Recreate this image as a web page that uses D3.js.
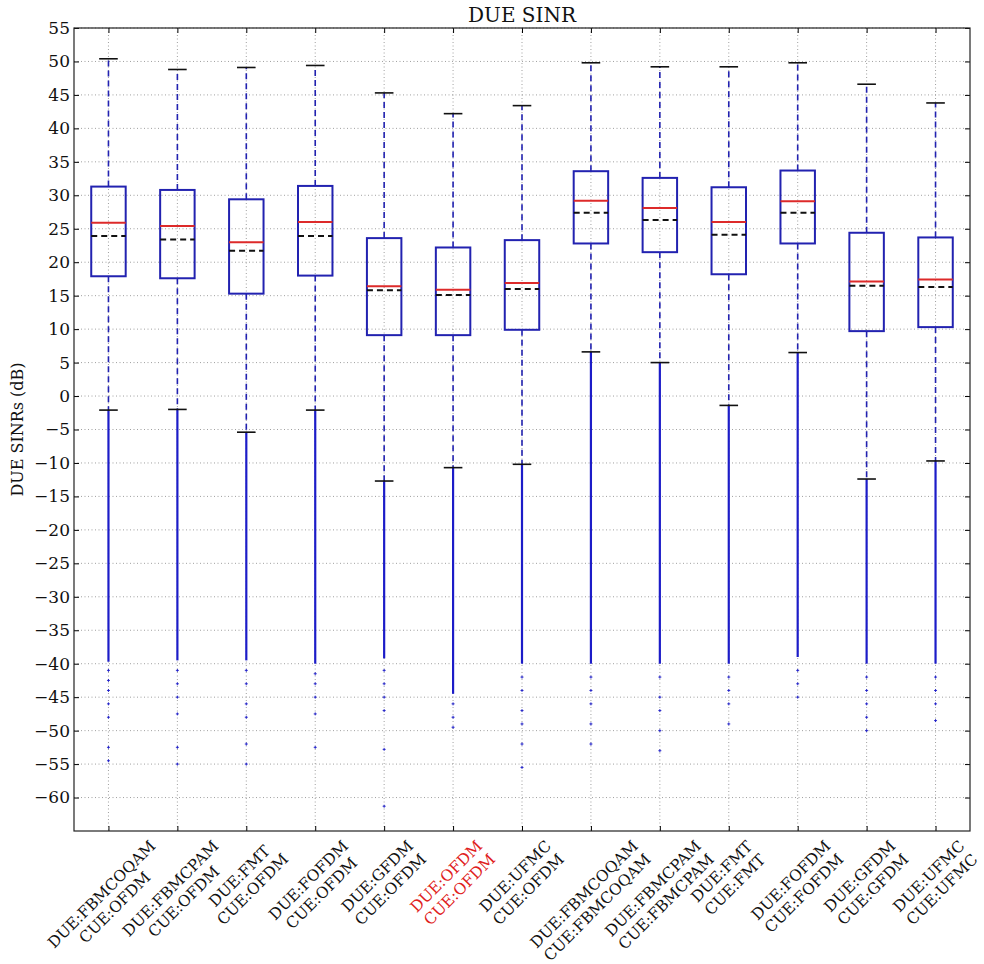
<!DOCTYPE html>
<html><head><meta charset="utf-8">
<script src="https://cdn.jsdelivr.net/npm/d3@7"></script>
<style>body{margin:0;background:#fff}</style>
</head><body><svg id="chart" width="984" height="964"></svg>
<script>
// ---- data ----
const categories = [
  ["DUE:FBMCOQAM", "CUE:OFDM"],
  ["DUE:FBMCPAM", "CUE:OFDM"],
  ["DUE:FMT", "CUE:OFDM"],
  ["DUE:FOFDM", "CUE:OFDM"],
  ["DUE:GFDM", "CUE:OFDM"],
  ["DUE:OFDM", "CUE:OFDM"],
  ["DUE:UFMC", "CUE:OFDM"],
  ["DUE:FBMCOQAM", "CUE:FBMCOQAM"],
  ["DUE:FBMCPAM", "CUE:FBMCPAM"],
  ["DUE:FMT", "CUE:FMT"],
  ["DUE:FOFDM", "CUE:FOFDM"],
  ["DUE:GFDM", "CUE:GFDM"],
  ["DUE:UFMC", "CUE:UFMC"]
];
const highlighted = ["DUE:OFDM"];
const capHigh = [50.4, 48.8, 49.1, 49.4, 45.3, 42.2, 43.4, 49.8, 49.2, 49.2, 49.8, 46.6, 43.8];
const q3      = [31.3, 30.8, 29.4, 31.4, 23.6, 22.2, 23.3, 33.6, 32.6, 31.2, 33.7, 24.4, 23.7];
const medians = [25.9, 25.4, 23.0, 26.0, 16.4, 15.9, 16.9, 29.2, 28.1, 26.0, 29.1, 17.1, 17.4];
const means   = [23.9, 23.4, 21.7, 23.9, 15.8, 15.1, 16.0, 27.4, 26.3, 24.1, 27.4, 16.5, 16.3];
const q1      = [17.9, 17.6, 15.3, 18.0,  9.1,  9.1,  9.9, 22.8, 21.5, 18.2, 22.8,  9.7, 10.3];
const capLow  = [-2.1, -2.0, -5.4, -2.1, -12.7, -10.7, -10.2, 6.6, 5.0, -1.4, 6.5, -12.4, -9.7];
const denseFlierEnd = [-39.7, -39.5, -39.5, -40, -39.2, -44.5, -40, -40, -40, -40, -39, -40, -40];
const sparseFliers = [
  [-41, -42.5, -44, -46, -48, -52.5, -54.5],
  [-41, -43, -45, -47.5, -52.5, -55],
  [-41, -43, -46, -48, -52, -55],
  [-41.5, -43, -45, -47.5, -52.5],
  [-41, -43, -45, -47, -52.8, -61.3],
  [-46, -48, -49.5],
  [-42, -44, -47, -49, -52, -55.5],
  [-42, -44, -46, -49, -52],
  [-42, -45, -47, -50, -53],
  [-42, -44, -46, -49],
  [-41, -43, -45],
  [-42, -44, -46, -48, -50],
  [-42, -44, -46, -48.5]
];
const yTickValues = [55, 50, 45, 40, 35, 30, 25, 20, 15, 10, 5, 0, -5, -10, -15, -20, -25, -30, -35, -40, -45, -50, -55, -60];
const yDomain = [-65, 55];
const titleText = "DUE SINR";
const yLabelText = "DUE SINRs (dB)";

// ---- layout ----
const L = 74, R = 970, T = 28, B = 831;
const svg = d3.select("#chart");
const font = "DejaVu Serif";
const blue = "#2222b0", flierBlue = "#1c1cc8", red = "#dd2a2a";

const x = d3.scaleLinear().domain([0.5, categories.length + 0.5]).range([L, R]);
const y = d3.scaleLinear().domain(yDomain).range([B, T]);
const pos = categories.map((c, i) => i + 1);
const boxHalf = (x(1.25) - x(0.75)) / 2;
const capHalf = (x(1.135) - x(0.865)) / 2;

// grid
const grid = svg.append("g");
grid.selectAll(".gy").data(yTickValues).join("line")
  .attr("x1", L).attr("x2", R).attr("y1", d => y(d)).attr("y2", d => y(d))
  .attr("stroke", "#777").attr("stroke-width", 0.7).attr("stroke-dasharray", "1,2.5");
grid.selectAll(".gx").data(pos).join("line")
  .attr("x1", d => x(d)).attr("x2", d => x(d)).attr("y1", T).attr("y2", B)
  .attr("stroke", "#777").attr("stroke-width", 0.7).attr("stroke-dasharray", "1,2.5");

// axes
const fmt = d3.format("d");
const ax = svg.append("g").attr("font-family", font);
const yl = ax.append("g").attr("transform", `translate(${L},0)`)
  .call(d3.axisLeft(y).tickValues(yTickValues).tickFormat(fmt).tickSize(-5).tickPadding(4));
ax.append("g").attr("transform", `translate(${R},0)`)
  .call(d3.axisRight(y).tickValues(yTickValues).tickFormat("").tickSize(-5));
ax.append("g").attr("transform", `translate(0,${B})`)
  .call(d3.axisBottom(x).tickValues(pos).tickFormat("").tickSize(-5));
ax.append("g").attr("transform", `translate(0,${T})`)
  .call(d3.axisTop(x).tickValues(pos).tickFormat("").tickSize(-5));
ax.selectAll(".domain").remove();
ax.selectAll(".tick line").attr("stroke", "#000").attr("stroke-width", 1);
yl.selectAll("text").attr("font-size", 17).attr("fill", "#111").attr("font-family", font);

// boxes
const g = svg.append("g");
pos.forEach((p, i) => {
  const cx = x(p);
  g.append("line").attr("x1", cx).attr("x2", cx).attr("y1", y(q3[i])).attr("y2", y(capHigh[i]))
    .attr("stroke", blue).attr("stroke-width", 1.6).attr("stroke-dasharray", "6,4");
  g.append("line").attr("x1", cx).attr("x2", cx).attr("y1", y(q1[i])).attr("y2", y(capLow[i]))
    .attr("stroke", blue).attr("stroke-width", 1.6).attr("stroke-dasharray", "6,4");
  g.append("line").attr("x1", cx).attr("x2", cx).attr("y1", y(capLow[i])).attr("y2", y(denseFlierEnd[i]))
    .attr("stroke", flierBlue).attr("stroke-width", 2.2);
  sparseFliers[i].forEach(v => {
    g.append("path").attr("d", `M${cx-1.5},${y(v)}h3M${cx},${y(v)-1.5}v3`)
      .attr("stroke", flierBlue).attr("stroke-width", 0.9);
  });
  [capHigh[i], capLow[i]].forEach(v => {
    g.append("line").attr("x1", cx - capHalf).attr("x2", cx + capHalf).attr("y1", y(v)).attr("y2", y(v))
      .attr("stroke", "#111").attr("stroke-width", 1.6);
  });
  g.append("rect").attr("x", cx - boxHalf).attr("width", 2 * boxHalf)
    .attr("y", y(q3[i])).attr("height", y(q1[i]) - y(q3[i]))
    .attr("fill", "none").attr("stroke", blue).attr("stroke-width", 2);
  g.append("line").attr("x1", cx - boxHalf).attr("x2", cx + boxHalf).attr("y1", y(medians[i])).attr("y2", y(medians[i]))
    .attr("stroke", red).attr("stroke-width", 2);
  g.append("line").attr("x1", cx - boxHalf).attr("x2", cx + boxHalf).attr("y1", y(means[i])).attr("y2", y(means[i]))
    .attr("stroke", "#111").attr("stroke-width", 2).attr("stroke-dasharray", "6,4");
});

// frame
svg.append("rect").attr("x", L).attr("y", T).attr("width", R - L).attr("height", B - T)
  .attr("fill", "none").attr("stroke", "#222").attr("stroke-width", 1.2);

// title, y label
svg.append("text").attr("x", (L + R) / 2).attr("y", 22).attr("text-anchor", "middle")
  .attr("font-family", font).attr("font-size", 20).attr("fill", "#111").text(titleText);
svg.append("text").attr("transform", `translate(23,${(T + B) / 2}) rotate(-90)`).attr("text-anchor", "middle")
  .attr("font-family", font).attr("font-size", 16).attr("fill", "#111").text(yLabelText);

// x tick labels, rotated 45 deg, centred multi-line
const fs = 15.5;
categories.forEach((lines, i) => {
  const outer = svg.append("g");
  const inner = outer.append("g").attr("transform", "rotate(-45)");
  const col = highlighted.includes(lines[0]) ? "#e02020" : "#111";
  lines.forEach((t, k) => {
    inner.append("text").attr("x", 0).attr("y", k * fs * 1.2).attr("text-anchor", "middle")
      .attr("font-family", font).attr("font-size", fs).attr("fill", col).text(t);
  });
  const bb = outer.node().getBBox();
  outer.attr("transform", `translate(${x(pos[i]) - (bb.x + bb.width / 2)},${B + 6 - bb.y})`);
});
</script></body></html>
